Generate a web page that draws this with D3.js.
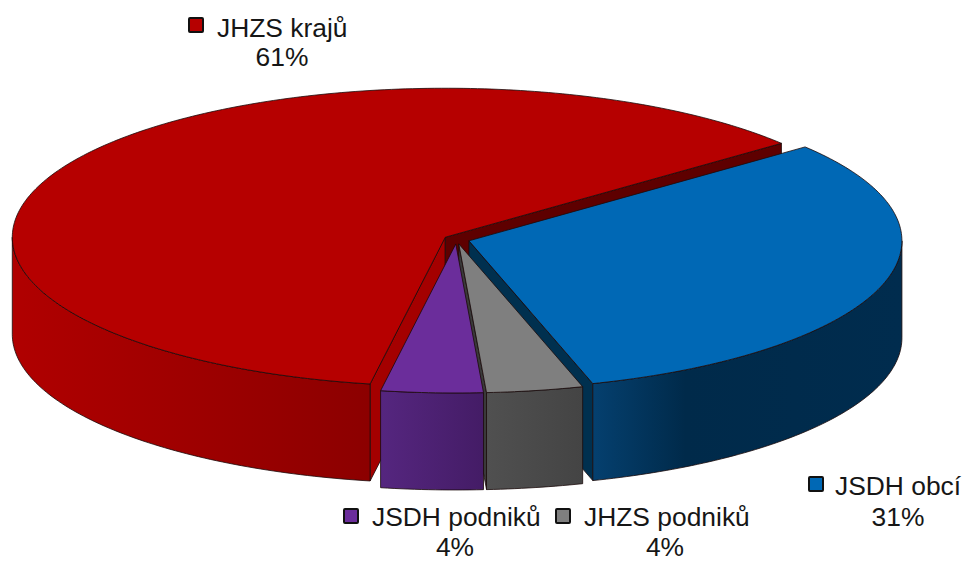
<!DOCTYPE html>
<html><head><meta charset="utf-8">
<script src="https://cdn.jsdelivr.net/npm/d3@7"></script>
<style>html,body{margin:0;padding:0;background:#fff}svg{display:block}text{font-family:"Liberation Sans",Arial,sans-serif;fill:#161616}</style>
</head><body><div id="c"></div>
<script>
// Data
const categories = ["JHZS krajů", "JSDH obcí", "JHZS podniků", "JSDH podniků"];
const shares = [61.4, 31.25, 3.6, 3.8];
const percentLabels = ["61%", "31%", "4%", "4%"];
const topColors = ["#b60000", "#0068b5", "#7f7f7f", "#6b2d9b"];
const sideStops = [
  [[0, "#b00000"], [1, "#8c0000"]],
  [[0, "#05406f"], [0.3, "#002a4a"], [1, "#002c4e"]],
  [[0, "#505050"], [1, "#444444"]],
  [[0, "#55267f"], [1, "#441c66"]]
];
const startWallColors = ["#a40000", "#003058", "#3c3c3c", "#3a1a5a"];
const endWallColors = ["#5e0000", "#00304f", "#3a3a3a", "#3a1a5a"];

const W = 967, H = 562;
const cx = 456.5, cy = 239.5, rx = 433, ry = 149, depth = 97, explode = 13;
const startDeg = 190;

const svg = d3.select("#c").append("svg").attr("width", W).attr("height", H).attr("viewBox", [0, 0, W, H]);
const defs = svg.append("defs");

const pie = d3.pie().sort(null).value(d => d)
  .startAngle(startDeg * Math.PI / 180).endAngle((startDeg + 360) * Math.PI / 180);
const arcs = pie(shares);

// Ground-plane projection of pie angles
const xS = d3.scaleLinear().domain([-1, 1]).range([-rx, rx]);
const yS = d3.scaleLinear().domain([-1, 1]).range([-ry, ry]);
const line = d3.line().x(d => d[0]).y(d => d[1]);
const stroke = "#1a0a0a";
const sw = 0.8;

arcs.forEach((a, i) => {
  const mid = (a.startAngle + a.endAngle) / 2;
  const ox = cx + xS(Math.sin(mid) * explode / rx);
  const oy = cy + yS(-Math.cos(mid) * explode / rx);
  const pt = (t, dz = 0, r = 1) => [ox + xS(Math.sin(t) * r), oy + yS(-Math.cos(t) * r) + dz];
  const seg = (t0, t1, dz) => {
    const n = Math.max(2, Math.ceil((t1 - t0) * 60));
    return d3.range(n + 1).map(k => pt(t0 + (t1 - t0) * k / n, dz));
  };
  const apex = pt(0, 0, 0), apexB = pt(0, depth, 0);
  const g = svg.append("g").attr("class", "slice").datum(categories[i]);
  const tA = a.startAngle, tB = a.endAngle;

  // radial walls, only when they face the viewer
  if (Math.sin(tA) < 0) {
    g.append("path").attr("d", line([apex, pt(tA), pt(tA, depth), apexB]) + "Z")
      .attr("fill", startWallColors[i]).attr("stroke", stroke).attr("stroke-width", sw);
  }
  if (Math.sin(tB) > 0) {
    g.append("path").attr("d", line([apex, pt(tB), pt(tB, depth), apexB]) + "Z")
      .attr("fill", endWallColors[i]).attr("stroke", stroke).attr("stroke-width", sw);
  }

  // outer rim, front half only
  [0, 2].forEach(k => {
    const f0 = Math.PI / 2 + k * Math.PI, f1 = f0 + Math.PI;
    const u = Math.max(tA, f0), v = Math.min(tB, f1);
    if (v <= u) return;
    const top = seg(u, v, 0), bot = seg(u, v, depth).reverse();
    const id = "side" + i + "_" + k;
    const lg = defs.append("linearGradient").attr("id", id).attr("gradientUnits", "userSpaceOnUse")
      .attr("x1", d3.min(top, d => d[0])).attr("x2", d3.max(top, d => d[0])).attr("y1", 0).attr("y2", 0);
    sideStops[i].forEach(s => lg.append("stop").attr("offset", s[0]).attr("stop-color", s[1]));
    g.append("path").attr("d", line(top.concat(bot)) + "Z")
      .attr("fill", `url(#${id})`).attr("stroke", stroke).attr("stroke-width", sw);
  });

  // top face
  g.append("path").attr("d", line([apex].concat(seg(tA, tB, 0))) + "Z")
    .attr("fill", topColors[i]).attr("stroke", stroke).attr("stroke-width", sw).attr("stroke-linejoin", "round");
});

// Labels
const labelSpec = [
  { key: [189, 18], x: 217, y: 37, cx: 282, py: 66 },
  { key: [809, 477], x: 835, y: 495, cx: 898, py: 526 },
  { key: [556, 509], x: 584, y: 526, cx: 665, py: 556 },
  { key: [344, 509], x: 372, y: 526, cx: 455, py: 556 }
];
const legend = svg.append("g").attr("class", "labels");
labelSpec.forEach((l, i) => {
  legend.append("rect").attr("x", l.key[0]).attr("y", l.key[1]).attr("width", 14).attr("height", 14)
    .attr("rx", 1).attr("fill", topColors[i]).attr("stroke", "#111").attr("stroke-width", 2);
  legend.append("text").attr("x", l.x).attr("y", l.y).attr("font-size", 26.4).text(categories[i]);
  legend.append("text").attr("x", l.cx).attr("y", l.py).attr("font-size", 26.4).attr("text-anchor", "middle").text(percentLabels[i]);
});
</script></body></html>
